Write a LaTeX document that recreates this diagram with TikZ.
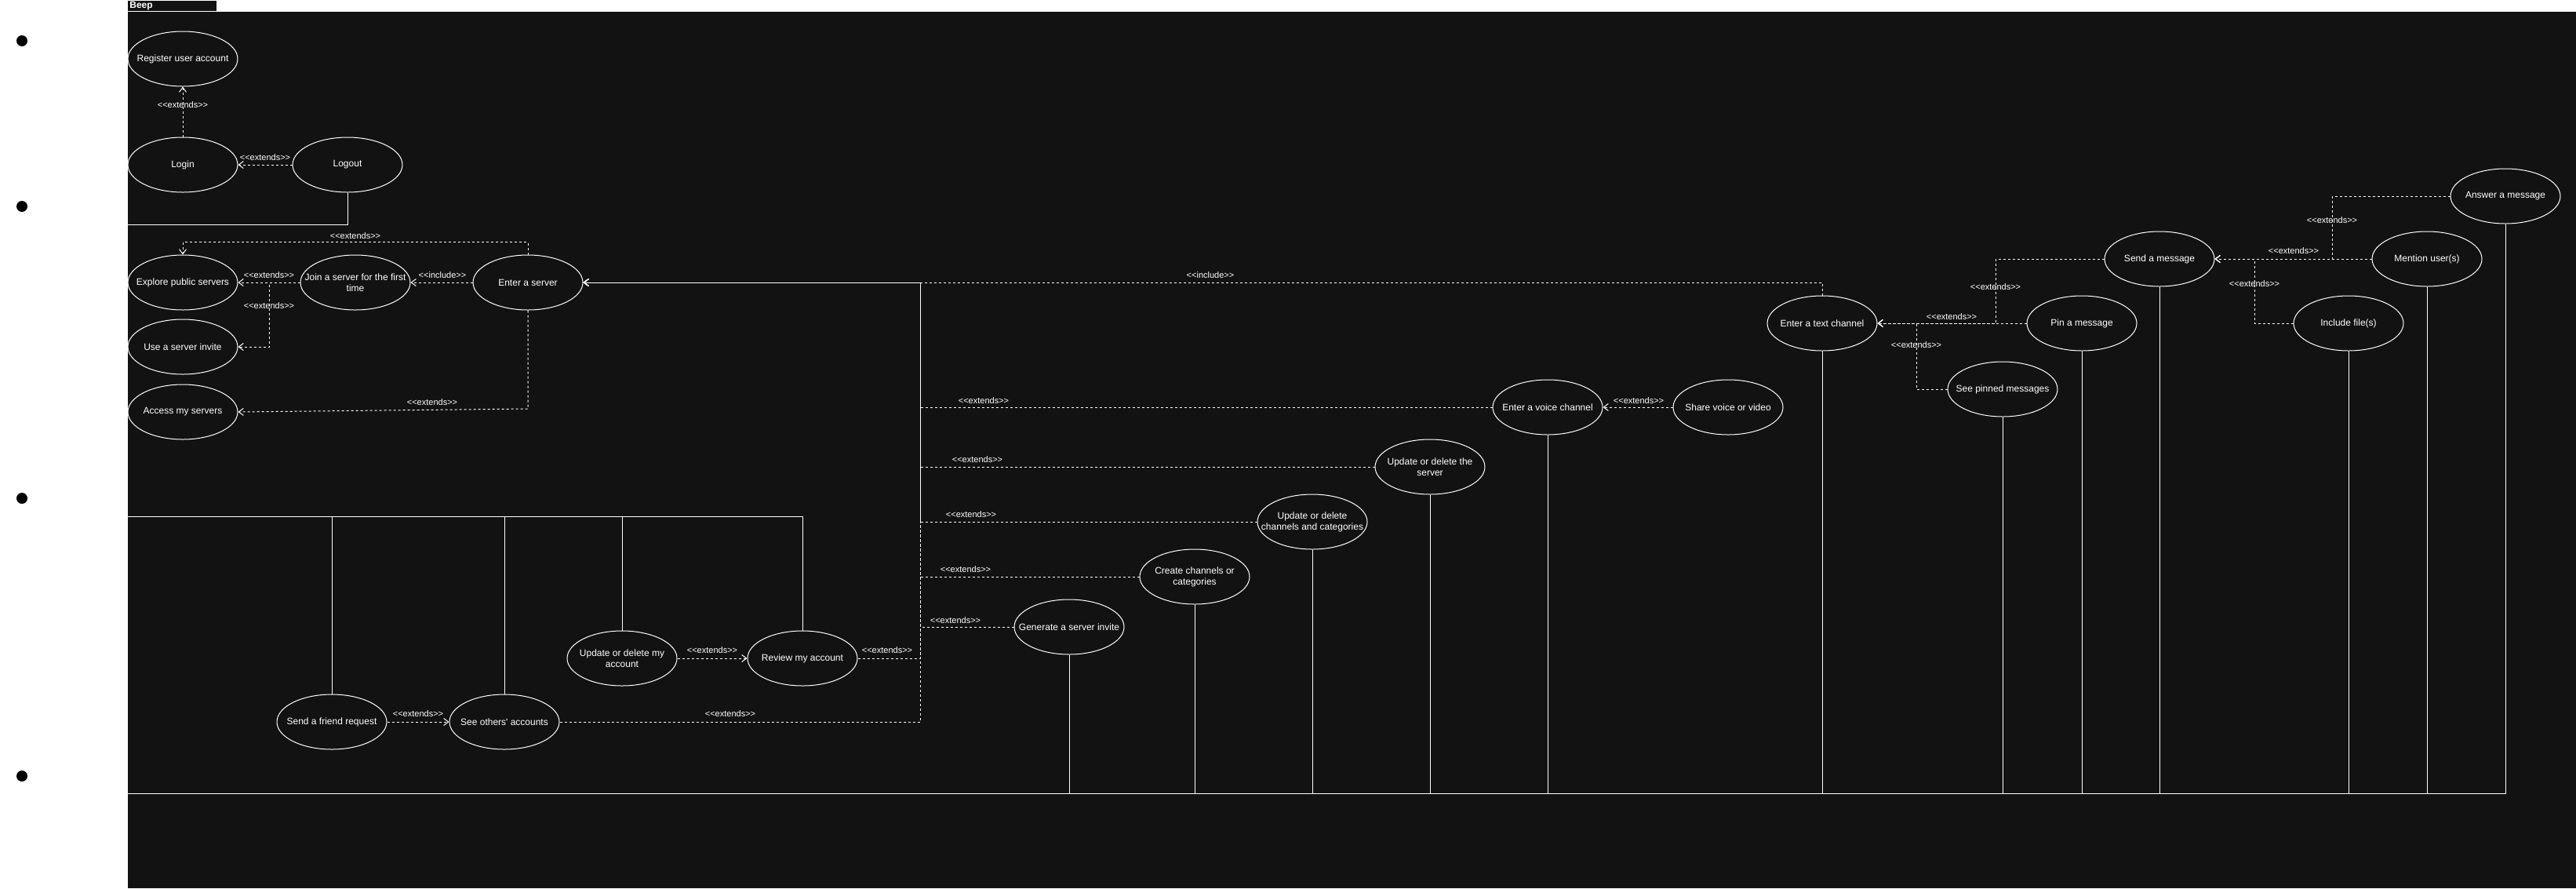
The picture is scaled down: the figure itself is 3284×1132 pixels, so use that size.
\documentclass[tikz,border=0pt]{standalone}
\usepackage{fontspec}
\setmainfont{Liberation Sans}[Ligatures=TeXOff]
\usetikzlibrary{arrows.meta,shapes.geometric}
\definecolor{bgdark}{HTML}{121212}
\begin{document}
\begin{tikzpicture}[x=0.5pt,y=-0.5pt,
  uc/.style={ellipse, draw=white, line width=0.5pt, fill=bgdark, minimum width=70pt, minimum height=35pt, inner sep=0pt},
  uctxt/.style={text=white, font=\fontsize{6}{7}\selectfont, align=center, inner sep=0pt},
  lbl/.style={text=white, font=\fontsize{5.5}{6.5}\selectfont, inner sep=0pt},
  assoc/.style={draw=white, line width=0.5pt},
  dep/.style={draw=white, line width=0.5pt, dash pattern=on 1.5pt off 1.5pt, -{Straight Barb[length=3pt,width=4.5pt]}},
  actor/.style={circle, fill=black, minimum size=7pt, inner sep=0pt}]

\useasboundingbox (0,0) rectangle (3284,1132);
\fill[white] (0,0) rectangle (3284,1132);
\fill[bgdark] (163,15) rectangle (3284,1132);
\fill[bgdark] (163,1) rectangle (276,14);
\node[anchor=west, text=white, font=\bfseries\fontsize{6}{7}\selectfont, inner sep=0pt] (title) at (165,7.5) {Beep};

% actors
\node[actor] (act1) at (28,52) {};
\node[actor] (act2) at (28,263) {};
\node[actor] (act3) at (28,635) {};
\node[actor] (act4) at (28,989) {};

% use cases
\node[uc, label={[uctxt]center:{Register user account}}] (reg) at (233,75) {};
\node[uc, label={[uctxt]center:{Login}}] (login) at (233,210) {};
\node[uc, label={[uctxt]center:{Logout}}] (logout) at (443,210) {};
\node[uc, label={[uctxt]center:{Explore public servers}}] (exp) at (233,360) {};
\node[uc, label={[uctxt]center:{Join a server for the first\\time}}] (join) at (453,360) {};
\node[uc, label={[uctxt]center:{Enter a server}}] (es) at (673,360) {};
\node[uc, label={[uctxt]center:{Use a server invite}}] (inv) at (233,442) {};
\node[uc, label={[uctxt]center:{Access my servers}}] (acc) at (233,525) {};
\node[uc, label={[uctxt]center:{Send a friend request}}] (sfr) at (423,920) {};
\node[uc, label={[uctxt]center:{See others' accounts}}] (soa) at (643,920) {};
\node[uc, label={[uctxt]center:{Update or delete my\\account}}] (uma) at (793,839) {};
\node[uc, label={[uctxt]center:{Review my account}}] (rev) at (1023,839) {};
\node[uc, label={[uctxt]center:{Generate a server invite}}] (gi) at (1363,799) {};
\node[uc, label={[uctxt]center:{Create channels or\\categories}}] (cc) at (1523,735) {};
\node[uc, label={[uctxt]center:{Update or delete\\channels and categories}}] (udc) at (1673,665) {};
\node[uc, label={[uctxt]center:{Update or delete the\\server}}] (uds) at (1823,595) {};
\node[uc, label={[uctxt]center:{Enter a voice channel}}] (voice) at (1973,519) {};
\node[uc, label={[uctxt]center:{Share voice or video}}] (share) at (2203,519) {};
\node[uc, label={[uctxt]center:{Enter a text channel}}] (tc) at (2323,412) {};
\node[uc, label={[uctxt]center:{See pinned messages}}] (pinned) at (2553,496) {};
\node[uc, label={[uctxt]center:{Pin a message}}] (pin) at (2654,412) {};
\node[uc, label={[uctxt]center:{Send a message}}] (send) at (2753,330) {};
\node[uc, label={[uctxt]center:{Include file(s)}}] (inc) at (2994,412) {};
\node[uc, label={[uctxt]center:{Mention user(s)}}] (ment) at (3094,330) {};
\node[uc, label={[uctxt]center:{Answer a message}}] (ans) at (3194,250) {};

% free ends of associations and bends
\coordinate (a2in) at (163,286);
\coordinate (a3in) at (163,658);
\coordinate (a4in) at (163,1011);
\coordinate (bus) at (1173,360);

% associations
\draw[assoc] (logout.south) |- (a2in);
\foreach \n in {sfr,soa,uma,rev} \draw[assoc] (a3in) -| (\n.north);
\foreach \n in {gi,cc,udc,uds,voice,tc,pinned,pin,send,inc,ment,ans} \draw[assoc] (a4in) -| (\n.south);

% dependencies (top-left)
\draw[dep] (login.north) -- (reg.south);
\draw[dep] (logout.west) -- (login.east);
\draw[dep] (es.north) -- ++(0,-16) -| (exp.north);
\draw[dep] (join.west) -- (exp.east);
\draw[dep] (join.west) -- (343,360) |- (inv.east);
\draw[dep] (es.west) -- (join.east);
\draw[dep] (es.south) -- (673,521) -- (acc.east);

% dependencies to Enter a server via bus
\draw[dep] (tc.north) |- (es.east);
\draw[dep] (voice.west) -| (bus) -- (es.east);
\draw[dep] (uds.west) -| (bus) -- (es.east);
\draw[dep] (udc.west) -| (bus) -- (es.east);
\draw[dep] (cc.west) -| (bus) -- (es.east);
\draw[dep] (gi.west) -| (bus) -- (es.east);
\draw[dep] (rev.east) -| (bus) -- (es.east);
\draw[dep] (soa.east) -| (bus) -- (es.east);

% lower-left
\draw[dep] (sfr.east) -- (soa.west);
\draw[dep] (uma.east) -- (rev.west);

% right side
\draw[dep] (share.west) -- (voice.east);
\draw[dep] (send.west) -- (2544,330) -- (2544,412) -- (tc.east);
\draw[dep] (pin.west) -- (tc.east);
\draw[dep] (pinned.west) -- (2443,496) -- (2443,412) -- (tc.east);
\draw[dep] (ment.west) -- (send.east);
\draw[dep] (ans.west) -- (2973,250) -- (2973,330) -- (send.east);
\draw[dep] (inc.west) -- (2874,412) -- (2874,330) -- (send.east);

% labels
\node[lbl] (l1) at (233,134) {<<extends>>};
\node[lbl] (l2) at (338,201) {<<extends>>};
\node[lbl] (l3) at (453,301) {<<extends>>};
\node[lbl] (l4) at (343,351) {<<extends>>};
\node[lbl] (l5) at (343,390) {<<extends>>};
\node[lbl] (l6) at (564,351) {<<include>>};
\node[lbl] (l7) at (551,513) {<<extends>>};
\node[lbl] (l8) at (1543,351) {<<include>>};
\node[lbl] (l9) at (1254,511) {<<extends>>};
\node[lbl] (l10) at (1246,586) {<<extends>>};
\node[lbl] (l11) at (1238,656) {<<extends>>};
\node[lbl] (l12) at (1231,726) {<<extends>>};
\node[lbl] (l13) at (1218,791) {<<extends>>};
\node[lbl] (l14) at (1131,829) {<<extends>>};
\node[lbl] (l15) at (908,829) {<<extends>>};
\node[lbl] (l16) at (533,910) {<<extends>>};
\node[lbl] (l17) at (931,910) {<<extends>>};
\node[lbl] (l18) at (2089,511) {<<extends>>};
\node[lbl] (l19) at (2544,366) {<<extends>>};
\node[lbl] (l20) at (2488,404) {<<extends>>};
\node[lbl] (l21) at (2443,440) {<<extends>>};
\node[lbl] (l22) at (2924,320) {<<extends>>};
\node[lbl] (l23) at (2973,281) {<<extends>>};
\node[lbl] (l24) at (2874,362) {<<extends>>};
\end{tikzpicture}
\end{document}
